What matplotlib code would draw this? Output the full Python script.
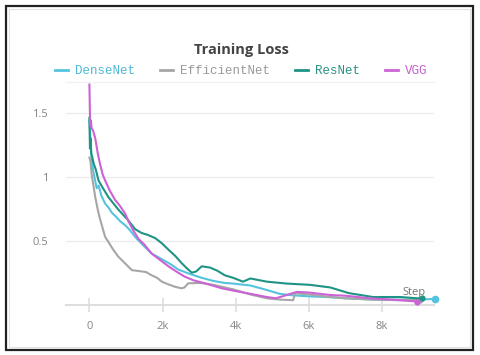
import matplotlib
matplotlib.use("Agg")
import matplotlib.pyplot as plt
from matplotlib.lines import Line2D
from matplotlib.patches import Rectangle

# ---- data ----
dense_steps = [0, 30, 60, 100, 150, 200, 250, 330, 430, 520, 610, 720, 850, 980, 1100, 1250, 1450, 1700, 1950, 2200, 2430, 2700, 3070, 3400, 3700, 3930, 4400, 4850, 5200, 5500, 6000, 6500, 7000, 7750, 8500, 9000, 9450]
dense_loss = [1.44, 1.28, 1.15, 1.05, 0.98, 0.91, 0.93, 0.85, 0.79, 0.76, 0.72, 0.69, 0.65, 0.62, 0.585, 0.53, 0.47, 0.40, 0.36, 0.32, 0.275, 0.245, 0.21, 0.185, 0.17, 0.165, 0.15, 0.115, 0.085, 0.075, 0.065, 0.06, 0.05, 0.04, 0.04, 0.04, 0.045]

eff_steps = [0, 30, 60, 100, 160, 230, 290, 360, 430, 520, 650, 790, 950, 1160, 1300, 1430, 1550, 1700, 1850, 1980, 2150, 2340, 2520, 2600, 2700, 3000, 3160, 3400, 3620, 3930, 4400, 4850, 5200, 5570, 5620, 6000, 6580, 7000, 7750, 8500, 9050]
eff_loss = [1.15, 1.12, 1.02, 0.95, 0.84, 0.74, 0.67, 0.60, 0.53, 0.49, 0.43, 0.375, 0.33, 0.27, 0.265, 0.26, 0.255, 0.23, 0.21, 0.18, 0.16, 0.14, 0.128, 0.135, 0.167, 0.17, 0.165, 0.155, 0.14, 0.12, 0.08, 0.05, 0.04, 0.035, 0.09, 0.08, 0.06, 0.05, 0.04, 0.035, 0.035]

res_steps = [0, 15, 30, 50, 80, 120, 170, 250, 350, 520, 660, 800, 930, 1060, 1250, 1430, 1600, 1800, 1980, 2160, 2350, 2520, 2680, 2800, 2920, 3070, 3300, 3500, 3700, 3930, 4200, 4400, 4850, 5400, 6030, 6580, 7100, 7750, 8500, 8950, 9100]
res_loss = [1.46, 1.22, 1.30, 1.18, 1.15, 1.10, 1.06, 0.97, 0.92, 0.84, 0.79, 0.74, 0.70, 0.66, 0.59, 0.56, 0.545, 0.52, 0.48, 0.43, 0.38, 0.325, 0.28, 0.25, 0.26, 0.30, 0.29, 0.265, 0.23, 0.21, 0.18, 0.205, 0.18, 0.165, 0.155, 0.135, 0.09, 0.06, 0.06, 0.05, 0.05]

vgg_steps = [0, 20, 40, 60, 100, 160, 230, 290, 360, 430, 560, 700, 840, 980, 1070, 1200, 1340, 1500, 1700, 1930, 2160, 2400, 2600, 2850, 3160, 3620, 3930, 4400, 4850, 5100, 5670, 6000, 6580, 7000, 7670, 8500, 8950]
vgg_loss = [1.72, 1.40, 1.44, 1.38, 1.36, 1.30, 1.18, 1.10, 1.02, 0.97, 0.89, 0.82, 0.77, 0.71, 0.65, 0.58, 0.515, 0.47, 0.40, 0.35, 0.30, 0.255, 0.22, 0.19, 0.167, 0.128, 0.11, 0.085, 0.06, 0.05, 0.10, 0.095, 0.076, 0.07, 0.05, 0.035, 0.025]

series_names = ["DenseNet", "EfficientNet", "ResNet", "VGG"]
line_colors = ["#55c3df", "#a6a6a6", "#1f9484", "#cc62d4"]
text_colors = ["#4db8d6", "#9a9a9a", "#2a9282", "#c55fcd"]

x_ticks = [0, 2000, 4000, 6000, 8000]
x_tick_labels = ["0", "2k", "4k", "6k", "8k"]
y_ticks = [0.5, 1.0, 1.5]
y_tick_labels = ["0.5", "1", "1.5"]

# ---- figure ----
fig = plt.figure(figsize=(4.8, 3.55), dpi=100)
ax = fig.add_axes([66 / 480, (355 - 304.7) / 355, 368 / 480, 222.7 / 355])

data = {
    "DenseNet": (dense_steps, dense_loss),
    "EfficientNet": (eff_steps, eff_loss),
    "ResNet": (res_steps, res_loss),
    "VGG": (vgg_steps, vgg_loss),
}
draw_order = ["EfficientNet", "DenseNet", "ResNet", "VGG"]
for name in draw_order:
    i = series_names.index(name)
    xs, ys = data[name]
    ax.plot(xs, ys, color=line_colors[i], lw=1.5, solid_joinstyle="round", zorder=3 + i, clip_on=False)
    ax.plot([xs[-1]], [ys[-1]], "o", color=line_colors[i], ms=3.5 if name != "DenseNet" else 4.5,
            zorder=3 + i, clip_on=False)

ax.set_xlim(-640, 9420)
ax.set_ylim(0, 1.74)
ax.set_xticks(x_ticks)
ax.set_xticklabels(x_tick_labels)
ax.set_yticks(y_ticks)
ax.set_yticklabels(y_tick_labels)

ax.grid(axis="y", color="#ececec", lw=1.0)
ax.set_axisbelow(True)
for s in ["left", "right"]:
    ax.spines[s].set_visible(False)
ax.spines["top"].set_color("#f1f1f1")
ax.spines["top"].set_linewidth(1.0)
ax.spines["bottom"].set_color("#dedede")
ax.spines["bottom"].set_linewidth(1.5)

ax.tick_params(axis="x", direction="inout", length=10, width=1.2, color="#dedede",
               labelsize=8, labelcolor="#858585", pad=7)
ax.tick_params(axis="y", length=0, labelsize=8, labelcolor="#858585", pad=13)
for lab in ax.get_xticklabels() + ax.get_yticklabels():
    lab.set_family("Open Sans")

ax.text(0.946, 0.053, "Step", transform=ax.transAxes, ha="center", va="center",
        fontsize=8, color="#777777", family="Open Sans", zorder=10)

fig.text(0.503, 1 - 50 / 355, "Training Loss", ha="center", va="center",
         fontsize=10.5, fontweight="bold", color="#444444", family="Open Sans")

handles = [Line2D([0], [0], color=c, lw=2) for c in line_colors]
leg = fig.legend(handles, series_names, loc="center", bbox_to_anchor=(0.503, 1 - 71 / 355),
                 ncol=4, frameon=False, handlelength=1.0, handletextpad=0.6,
                 columnspacing=2.0, prop={"family": "Liberation Mono", "size": 9})
for t, c in zip(leg.get_texts(), text_colors):
    t.set_color(c)

# outer frame
fig.patches.append(Rectangle((6 / 480, 5 / 355), 467 / 480, 344 / 355, transform=fig.transFigure,
                             fill=False, edgecolor="#222222", lw=1.6))
fig.patches.append(Rectangle((9 / 480, 8 / 355), 461 / 480, 338 / 355, transform=fig.transFigure,
                             fill=False, edgecolor="#e2e2e2", lw=0.8))

fig.savefig("out.png", dpi=100)
